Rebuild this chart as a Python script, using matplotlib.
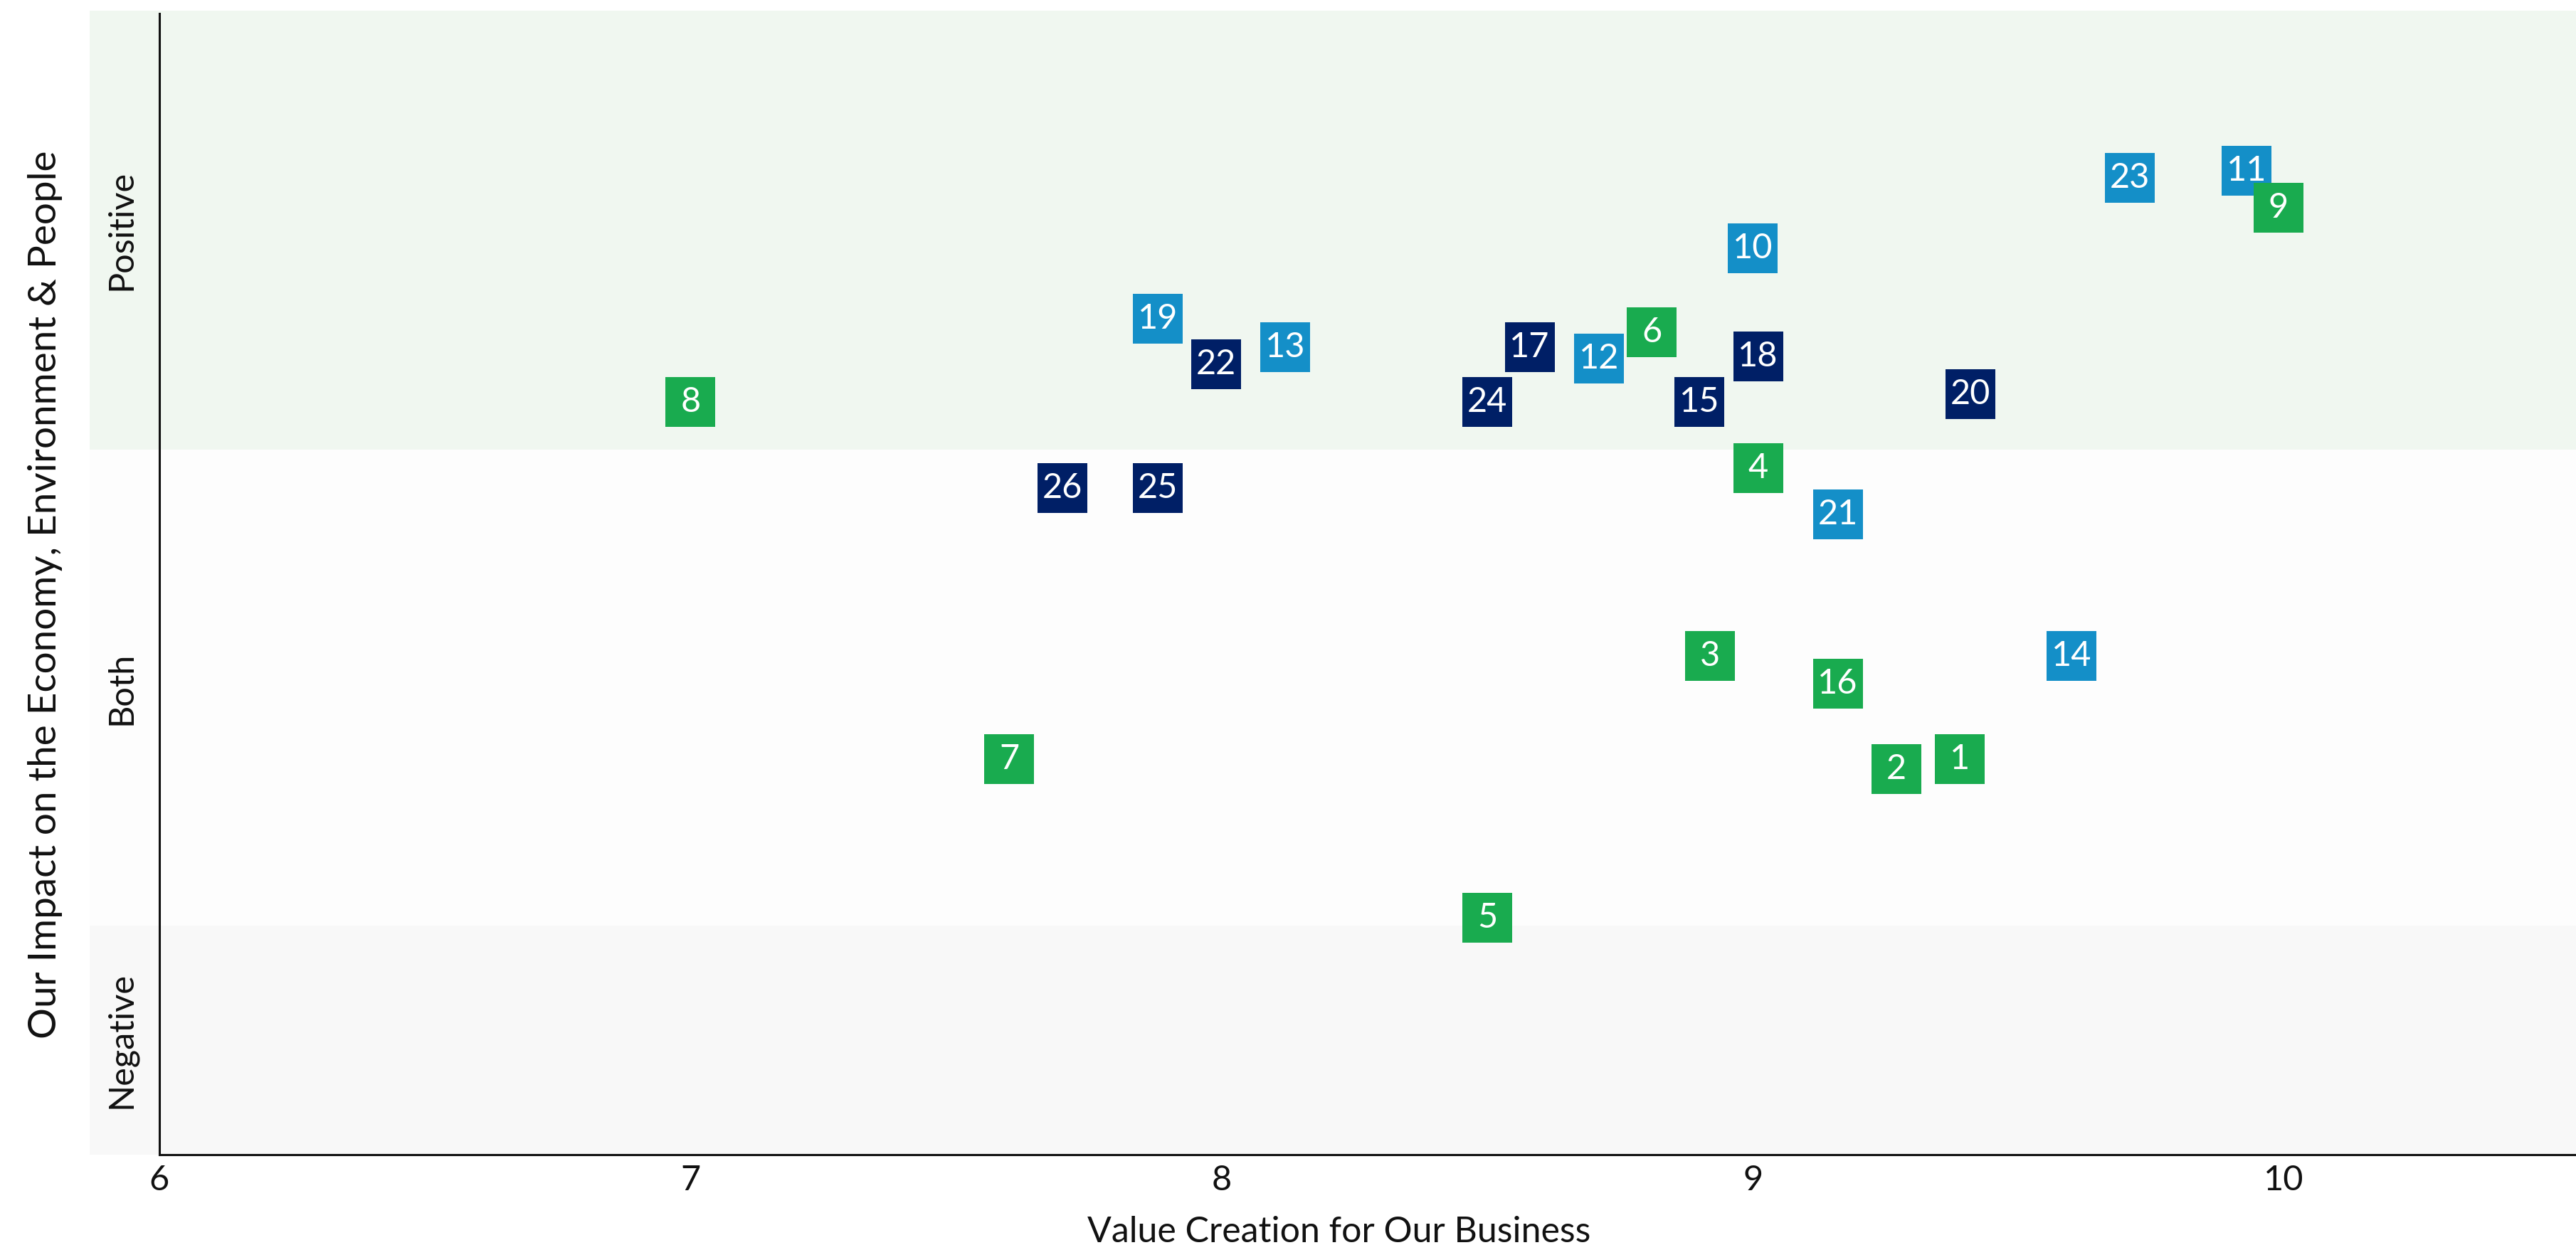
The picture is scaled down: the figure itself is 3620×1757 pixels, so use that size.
import matplotlib
matplotlib.use("Agg")
import matplotlib.pyplot as plt
from matplotlib.transforms import blended_transform_factory

plt.rcParams["font.family"] = ["Lato", "DejaVu Sans"]

# Material topics: id, value creation score (x), impact score (y), group
topic_ids = [1, 2, 3, 4, 5, 6, 7, 8, 9, 10, 11, 12, 13,
             14, 15, 16, 17, 18, 19, 20, 21, 22, 23, 24, 25, 26]
value_creation = [9.39, 9.27, 8.92, 9.01, 8.50, 8.81, 7.60, 7.00, 9.99, 9.00, 9.93, 8.71, 8.12,
                  9.60, 8.90, 9.16, 8.58, 9.01, 7.88, 9.41, 9.16, 7.99, 9.71, 8.50, 7.88, 7.70]
impact = [3.46, 3.37, 4.36, 6.00, 2.07, 7.19, 3.46, 6.58, 8.28, 7.92, 8.60, 6.96, 7.06,
          4.36, 6.58, 4.12, 7.06, 6.98, 7.31, 6.65, 5.60, 6.91, 8.54, 6.58, 5.83, 5.83]
group = ["env", "env", "env", "env", "env", "env", "env", "env", "env", "soc", "soc", "soc", "soc",
         "soc", "gov", "env", "gov", "gov", "soc", "gov", "soc", "gov", "soc", "gov", "gov", "gov"]

group_order = ["soc", "gov", "env"]
group_colors = {"env": "#19AB4F", "soc": "#148FC8", "gov": "#001F66"}

# Impact bands on the vertical axis
band_names = ["Negative", "Both", "Positive"]
band_edges = [0.0, 2.0, 6.16, 10.0]
band_colors = ["#F8F8F8", "#FDFDFD", "#F0F7F0"]

x_ticks = [6, 7, 8, 9, 10]
x_limits = (6, 10.55)

fig = plt.figure(figsize=(36.2, 17.57), dpi=100)
ax = fig.add_axes([224 / 3620, 134 / 1757, 1 - 224 / 3620, (1623 - 15) / 1757])
ax.set_xlim(*x_limits)
ax.set_ylim(band_edges[0], band_edges[-1])

band_left = (126 - 224) / 3396
for lo, hi, col in zip(band_edges[:-1], band_edges[1:], band_colors):
    ax.axhspan(lo, hi, xmin=band_left, xmax=1, color=col, lw=0, zorder=0, clip_on=False)

trans = blended_transform_factory(ax.transAxes, ax.transData)
for lo, hi, name in zip(band_edges[:-1], band_edges[1:], band_names):
    ax.text((170 - 224) / 3396, (lo + hi) / 2, name, transform=trans, rotation=90,
            ha="center", va="center", fontsize=35, color="#111111")

# Square markers with their topic numbers
for g in group_order:
    xs = [x for x, gg in zip(value_creation, group) if gg == g]
    ys = [y for y, gg in zip(impact, group) if gg == g]
    ids = [i for i, gg in zip(topic_ids, group) if gg == g]
    ax.scatter(xs, ys, marker="s", s=2611, color=group_colors[g], linewidths=0, zorder=3)
    for x, y, i in zip(xs, ys, ids):
        ax.text(x, y, str(i), color="white", fontsize=35, ha="center", va="center",
                zorder=4)

for side in ["top", "right"]:
    ax.spines[side].set_visible(False)
for side in ["left", "bottom"]:
    ax.spines[side].set_linewidth(2.2)
    ax.spines[side].set_color("#111111")
    ax.spines[side].set_zorder(5)
ax.spines["left"].set_bounds(band_edges[0], 9.975)

ax.set_xticks(x_ticks)
ax.set_xticklabels([str(t) for t in x_ticks])
ax.set_yticks([])
ax.tick_params(axis="x", length=0, pad=10, labelsize=35, labelcolor="#111111")
ax.patch.set_visible(False)

fig.text(64 / 3620, 1 - 836 / 1757, "Our Impact on the Economy, Environment & People",
         rotation=90, ha="center", va="center", fontsize=39.5, color="#111111")
fig.text(1882 / 3620, 1 - 1746 / 1757, "Value Creation for Our Business",
         ha="center", va="baseline", fontsize=36, color="#111111")

fig.savefig("out.png", dpi=100, facecolor="white")
